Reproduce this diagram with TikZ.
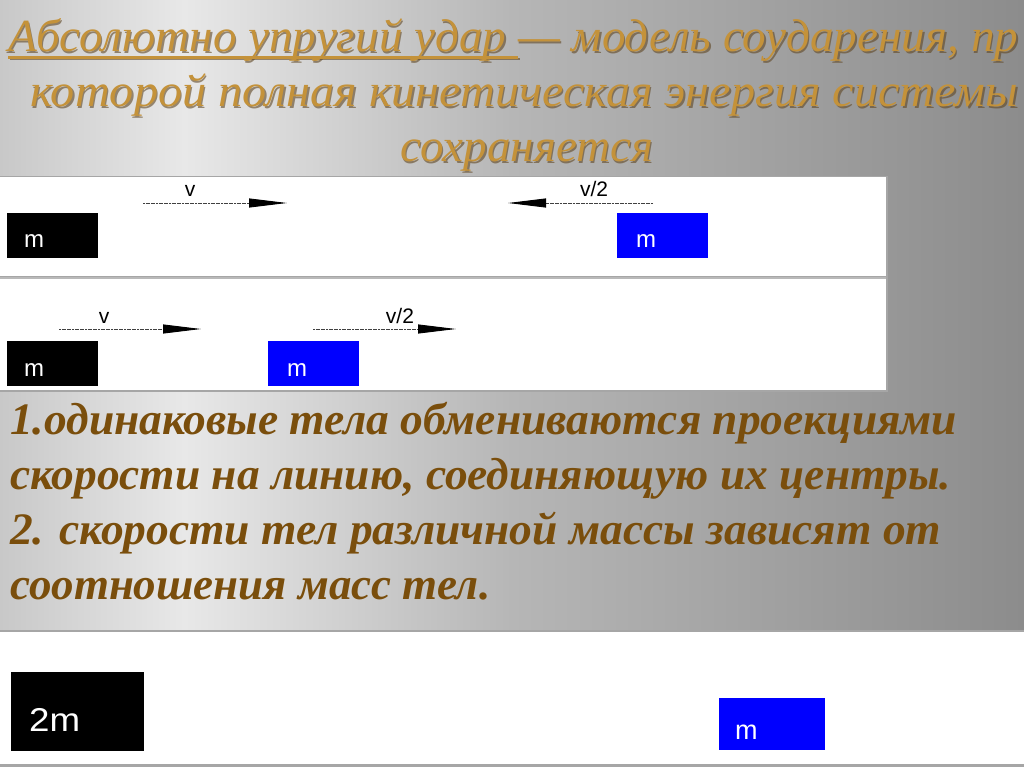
\documentclass[tikz,border=0pt]{standalone}
\usepackage{fontspec}
\usepackage{graphicx}
\setmainfont{Liberation Serif}
\newfontfamily\lsans{Liberation Sans}
\usetikzlibrary{arrows.meta}
\definecolor{bg0}{RGB}{200,200,200}
\definecolor{bg1}{RGB}{232,232,232}
\definecolor{bg2}{RGB}{182,182,182}
\definecolor{bg3}{RGB}{140,140,140}
\definecolor{gold}{RGB}{196,146,58}
\definecolor{goldsh}{RGB}{95,70,35}
\definecolor{brownt}{RGB}{122,78,12}
\definecolor{bblue}{RGB}{0,0,255}
\pgfdeclarehorizontalshading{bgshade}{100bp}{color(0bp)=(bg0); color(25bp)=(bg0); color(34bp)=(bg1); color(50bp)=(bg2); color(75bp)=(bg3); color(100bp)=(bg3)}
\newsavebox\ulbox
\newcommand\myul[1]{\sbox\ulbox{#1}\rlap{\rule[-7pt]{\wd\ulbox}{2.5pt}}\usebox\ulbox}
\newcommand\fitto[2]{\resizebox{#1}{\height}{#2}}
\tikzset{
  ttl/.style={anchor=base west, inner sep=0pt, text=gold, font=\fontsize{46}{50}\selectfont\itshape},
  ttlsh/.style={anchor=base west, inner sep=0pt, text=goldsh, opacity=0.6, font=\fontsize{46}{50}\selectfont\itshape},
  body/.style={anchor=base west, inner sep=0pt, text=brownt, font=\fontsize{45}{48}\selectfont\bfseries\itshape},
  panel/.style={fill=white},
  blk/.style={draw=none, minimum width=91pt, minimum height=45pt, anchor=north west, inner sep=0pt},
  mtxt/.style={anchor=base west, inner sep=0pt, text=white, font=\lsans\fontsize{24}{26}\selectfont},
  lbl/.style={anchor=base, inner sep=0pt, text=black, font=\lsans\fontsize{21}{24}\selectfont},
  vel/.style={draw=black!75, line width=0.9pt, dash pattern=on 2pt off 0.6pt, -{Triangle[length=38pt,width=9pt,color=black]}}
}
\begin{document}
\begin{tikzpicture}[x=1pt,y=-1pt]
\useasboundingbox (0,0) rectangle (1024,767);
% background
\fill[shading=bgshade] (0,0) rectangle (1024,767);
% title
\node[ttlsh] (t1s) at (9.5,53.5) {\fitto{1010pt}{\myul{Абсолютно упругий удар\ }— модель соударения, пр}};
\node[ttl] (t1) at (8,52) {\fitto{1010pt}{\myul{Абсолютно упругий удар\ }— модель соударения, пр}};
\node[ttlsh] (t2s) at (31.5,108.5) {\fitto{988pt}{которой полная кинетическая энергия системы}};
\node[ttl] (t2) at (30,107) {\fitto{988pt}{которой полная кинетическая энергия системы}};
\node[ttlsh] (t3s) at (401.5,163.5) {\fitto{253pt}{сохраняется}};
\node[ttl] (t3) at (400,162) {\fitto{253pt}{сохраняется}};
% panels
\fill[gray!70] (0,176) rectangle (888,392);
\fill[panel] (0,177) rectangle (886,276);
\fill[panel] (0,279) rectangle (886,390);
\draw[gray!55, line width=2pt] (0,277.5) -- (886,277.5);
% panel 1
\node[blk, fill=black] (b1) at (7,213) {};
\node[mtxt] (b1t) at ([xshift=17pt,yshift=11pt]b1.south west) {m};
\node[blk, fill=bblue] (b2) at (617,213) {};
\node[mtxt] (b2t) at ([xshift=19pt,yshift=11pt]b2.south west) {m};
\coordinate (a1s) at (143,203);
\coordinate (a1e) at (287,203);
\draw[vel] (a1s) -- (a1e);
\node[lbl] (l1) at (190,197) {v};
\coordinate (a2s) at (653,203);
\coordinate (a2e) at (508,203);
\draw[vel] (a2s) -- (a2e);
\node[lbl] (l2) at (594,197) {v/2};
% panel 2
\node[blk, fill=black] (b3) at (7,341) {};
\node[mtxt] (b3t) at ([xshift=17pt,yshift=10pt]b3.south west) {m};
\node[blk, fill=bblue] (b4) at (268,341) {};
\node[mtxt] (b4t) at ([xshift=19pt,yshift=10pt]b4.south west) {m};
\coordinate (a3s) at (59,329);
\coordinate (a3e) at (201,329);
\draw[vel] (a3s) -- (a3e);
\node[lbl] (l3) at (104,323) {v};
\coordinate (a4s) at (313,329);
\coordinate (a4e) at (456,329);
\draw[vel] (a4s) -- (a4e);
\node[lbl] (l4) at (400,323) {v/2};
% body text
\node[body] (p1) at (10,434) {\fitto{947pt}{1.одинаковые тела обмениваются проекциями}};
\node[body] (p2) at (10,489) {\fitto{941pt}{скорости на линию, соединяющую их центры.}};
\node[body] (p3) at (10,544) {\fitto{931pt}{2. скорости тел различной массы зависят от}};
\node[body] (p4) at (10,599) {\fitto{480pt}{соотношения масс тел.}};
% bottom panel
\fill[gray!70] (0,630) rectangle (1024,767);
\fill[panel] (0,632) rectangle (1024,764);
\node[blk, fill=black, minimum width=133pt, minimum height=79pt] (b5) at (11,672) {};
\node[mtxt, font=\lsans\fontsize{33}{36}\selectfont] (b5t) at ([xshift=18pt,yshift=20pt]b5.south west) {\fitto{51pt}{2m}};
\node[blk, fill=bblue, minimum width=106pt, minimum height=52pt] (b6) at (719,698) {};
\node[mtxt, font=\lsans\fontsize{27}{30}\selectfont] (b6t) at ([xshift=16pt,yshift=11pt]b6.south west) {m};
\end{tikzpicture}
\end{document}
